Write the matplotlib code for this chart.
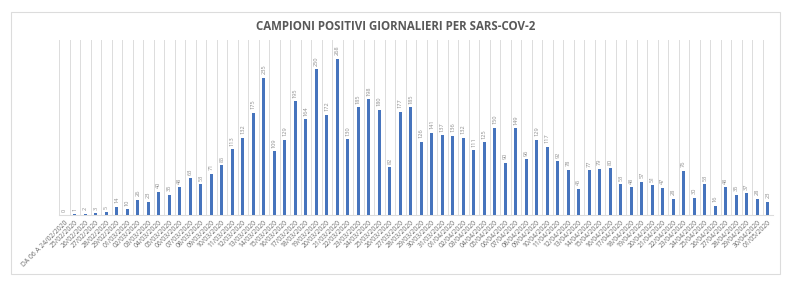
import matplotlib
matplotlib.use('Agg')
import matplotlib.pyplot as plt
from matplotlib.patches import Rectangle

# daily positive samples
first_label = 'DA 06 A 24/02/2020'
date_labels = [first_label] \
    + ['%02d/02/2020' % d for d in range(25, 30)] \
    + ['%02d/03/2020' % d for d in range(1, 32)] \
    + ['%02d/04/2020' % d for d in range(1, 31)] \
    + ['01/05/2020']

positivi = [0, 1, 2, 3, 5, 14, 10, 26, 23, 40, 35, 48, 63, 53, 71, 85, 113, 132,
            175, 235, 109, 129, 195, 164, 250, 172, 268, 130, 185, 198, 180, 82,
            177, 185, 126, 141, 137, 136, 132, 111, 125, 150, 90, 149, 96, 129,
            117, 92, 78, 45, 77, 79, 80, 53, 48, 57, 51, 47, 28, 76, 30, 53, 16,
            48, 35, 37, 28, 23]

plt.rcParams['font.family'] = ['Open Sans', 'DejaVu Sans']

bar_color = '#4674BD'
text_color = '#595959'
grid_color = '#dcdcdc'

fig = plt.figure(figsize=(7.92, 2.86), dpi=100)

# outer chart border
fig.patches.append(Rectangle((11 / 792, 12 / 286), 769 / 792, 262 / 286,
                             transform=fig.transFigure, fill=False,
                             edgecolor=grid_color, linewidth=0.8))

ax = fig.add_axes([59 / 792, 71 / 286, 714 / 792, 175 / 286])

x = list(range(len(positivi)))
ax.bar(x, positivi, width=0.27, color=bar_color, zorder=3)

# vertical gridlines between categories
for i in range(len(positivi) + 1):
    ax.axvline(i - 0.5, color=grid_color, linewidth=0.7, zorder=1)

for i, v in enumerate(positivi):
    ax.text(i, v + 6, str(v), rotation=90, ha='center', va='bottom',
            fontsize=4.1, color='#8c8c8c')

ax.set_xlim(-0.5, len(positivi) - 0.5)
ax.set_ylim(0, 300)
ax.set_xticks(x)
ax.set_xticklabels(date_labels, rotation=45, ha='right', rotation_mode='anchor',
                   fontsize=4.9, color='#6b6b6b')
ax.tick_params(axis='x', length=0, pad=3)
ax.set_yticks([])
for s in ['top', 'left', 'right']:
    ax.spines[s].set_visible(False)
ax.spines['bottom'].set_color(grid_color)
ax.spines['bottom'].set_linewidth(0.8)

fig.text(0.5, 1 - 26 / 286, 'CAMPIONI POSITIVI GIORNALIERI PER SARS-COV-2',
         ha='center', va='center', fontsize=8.3, fontweight='bold', color=text_color)

fig.savefig('out.png', dpi=100)
